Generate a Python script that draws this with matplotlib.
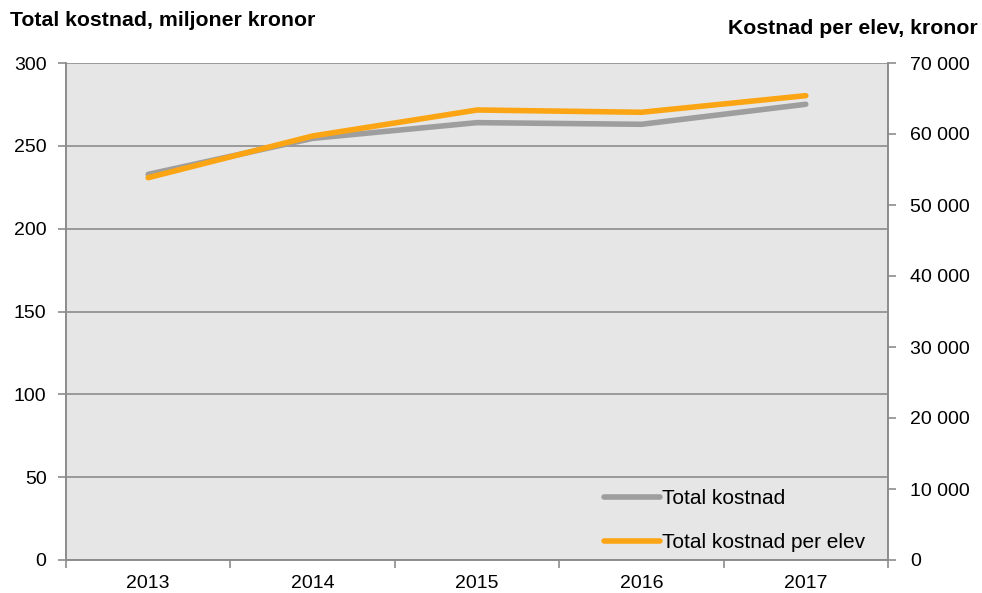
import numpy as np
import matplotlib.pyplot as plt
from matplotlib.ticker import FuncFormatter

plt.rcParams['font.family'] = ['Liberation Sans', 'DejaVu Sans']

years = ['2013', '2014', '2015', '2016', '2017']
total_kostnad = [232.8, 254.5, 264.0, 263.0, 275.1]
kostnad_per_elev = [53850, 59720, 63380, 63060, 65400]

grid_col = '#8c8c8c'
gray = '#9e9e9e'
orange = '#fba514'

fig = plt.figure(figsize=(9.82, 5.93), dpi=100)
ax = fig.add_axes([66 / 982, 33 / 593, 822 / 982, 497 / 593])
ax2 = ax.twinx()

x = np.arange(len(years))
ax.set_facecolor('#e6e6e6')
ax.plot(x, total_kostnad, color=gray, lw=4, solid_capstyle='round', label='Total kostnad')
ax2.plot(x, kostnad_per_elev, color=orange, lw=4, solid_capstyle='round',
         label='Total kostnad per elev')

ax.set_xlim(-0.5, len(years) - 0.5)
ax.set_ylim(0, 300)
ax.set_yticks(np.arange(0, 301, 50))
ax2.set_ylim(0, 70000)
ax2.set_yticks(np.arange(0, 70001, 10000))
ax2.yaxis.set_major_formatter(FuncFormatter(lambda v, p: f'{int(v):,}'.replace(',', ' ')))

ax.set_xticks(x)
ax.set_xticklabels(years)
ax.set_xticks(np.arange(-0.5, len(years)), minor=True)
ax.tick_params(axis='x', which='major', length=0, pad=11, labelsize=14)
ax.tick_params(axis='x', which='minor', length=6, direction='out', color=grid_col, width=1.2)
ax.tick_params(axis='y', length=6, direction='out', color=grid_col, width=1.2, labelsize=14, pad=8)
ax2.tick_params(axis='y', length=6, direction='out', color=grid_col, width=1.2, labelsize=14, pad=10)

ax.yaxis.grid(True, color=grid_col, lw=1.2)
ax.set_axisbelow(True)
for a in (ax, ax2):
    for s in a.spines.values():
        s.set_color(grid_col)
        s.set_linewidth(1.2)
    a.spines['top'].set_visible(False)

fig.text(10 / 982, 1 - 21 / 593, 'Total kostnad, miljoner kronor', fontsize=15.3,
         fontweight='bold', va='center', ha='left')
fig.text(978 / 982, 1 - 28 / 593, 'Kostnad per elev, kronor', fontsize=15.3,
         fontweight='bold', va='center', ha='right')

h1, l1 = ax.get_legend_handles_labels()
h2, l2 = ax2.get_legend_handles_labels()
ax2.legend(h1 + h2, l1 + l2, loc='lower right', bbox_to_anchor=(0.995, -0.022),
           frameon=False, fontsize=15, handlelength=2.7, handletextpad=0.1,
           labelspacing=1.2)

fig.savefig('out.png', dpi=100)
